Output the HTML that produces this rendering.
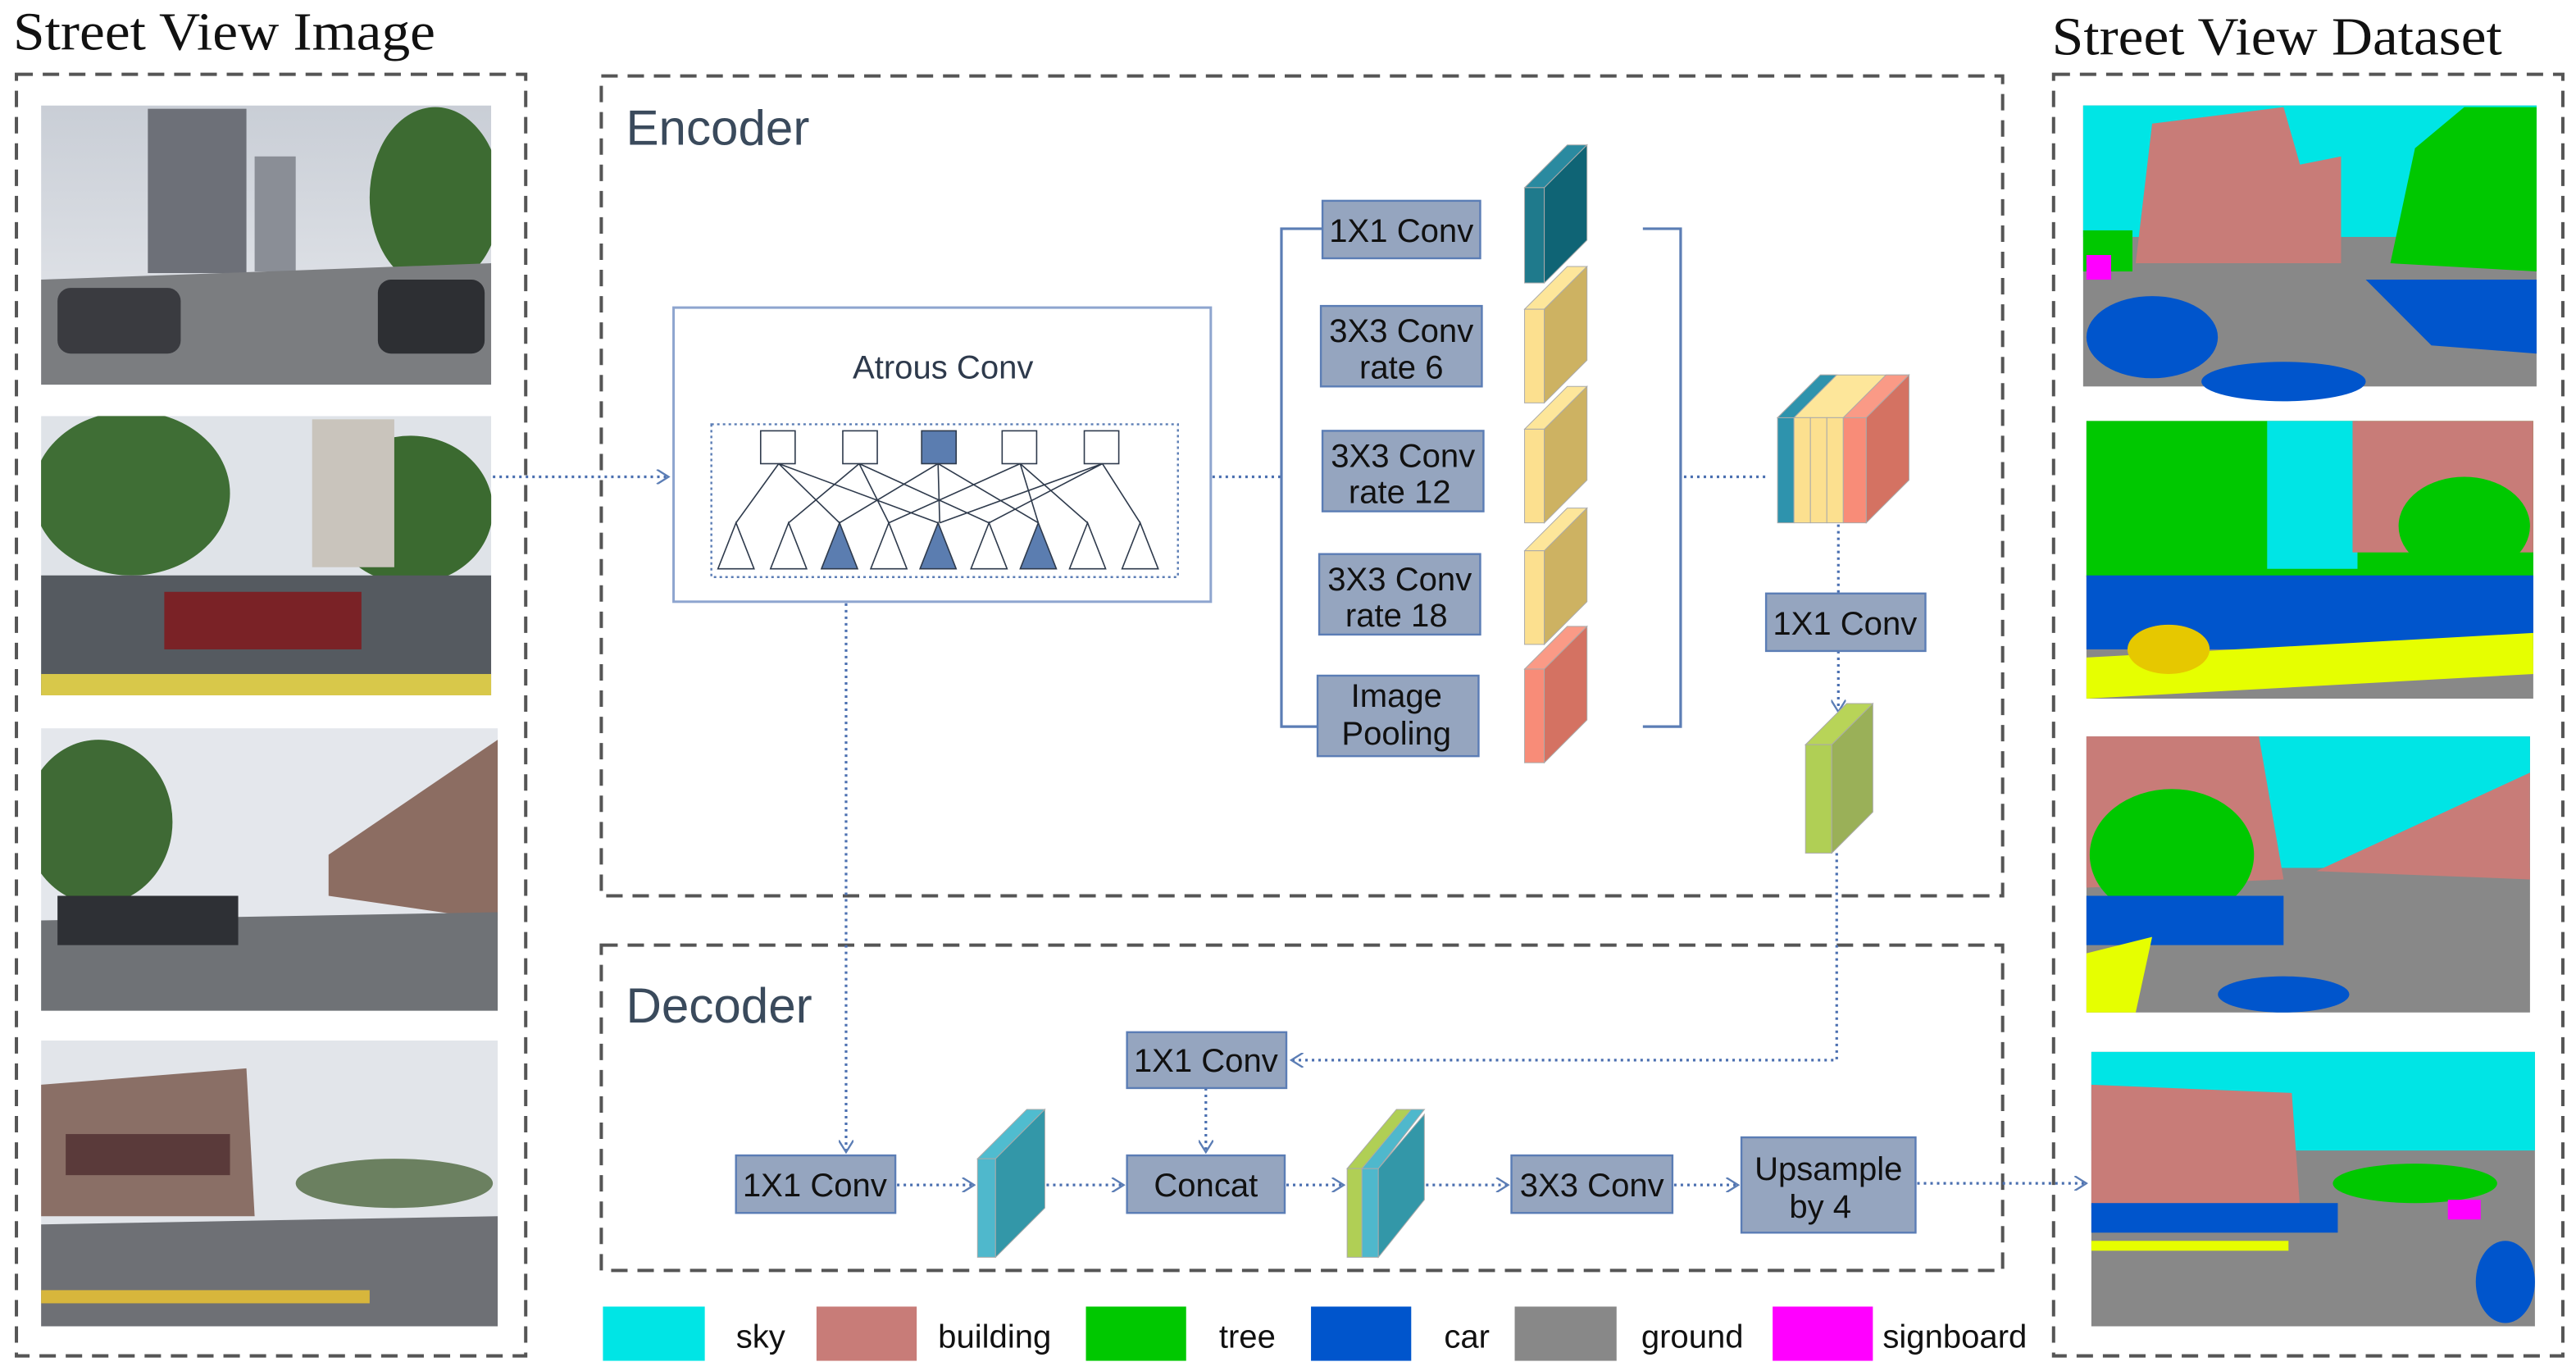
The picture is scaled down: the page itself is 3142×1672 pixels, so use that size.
<!DOCTYPE html>
<html><head><meta charset="utf-8"><style>html,body{margin:0;padding:0;background:#fff}svg{display:block}</style></head>
<body>
<svg xmlns="http://www.w3.org/2000/svg" width="3142" height="1672" viewBox="0 0 1568 834" font-family="'Liberation Sans',sans-serif">
<defs>
<marker id="ar" viewBox="0 0 10 10" refX="9" refY="5" markerWidth="9" markerHeight="9" orient="auto" markerUnits="userSpaceOnUse"><path d="M1,0 L9,5 L1,10" fill="none" stroke="#5b7db5" stroke-width="1.3"/></marker>
<linearGradient id="sky1" x1="0" y1="0" x2="0" y2="1"><stop offset="0" stop-color="#c9ced6"/><stop offset="1" stop-color="#e8eaee"/></linearGradient>
<clipPath id="c1"><rect x="25" y="64" width="274" height="170"/></clipPath>
<clipPath id="c2"><rect x="25" y="253" width="274" height="170"/></clipPath>
<clipPath id="c3"><rect x="25" y="443" width="278" height="172"/></clipPath>
<clipPath id="c4"><rect x="25" y="633" width="278" height="174"/></clipPath>
</defs>
<rect width="1568" height="834" fill="#fff"/>
<g fill="none" stroke="#555" stroke-width="2" stroke-dasharray="10,6">
<rect x="10" y="45" width="310" height="780"/>
<rect x="366" y="46" width="853" height="499"/>
<rect x="366" y="575" width="853" height="198"/>
<rect x="1250" y="45" width="310" height="780"/>
</g>
<text x="8" y="30" font-family="'Liberation Serif',serif" font-size="33" fill="#111" textLength="257" lengthAdjust="spacingAndGlyphs">Street View Image</text>
<text x="1249" y="33" font-family="'Liberation Serif',serif" font-size="33" fill="#111" textLength="274" lengthAdjust="spacingAndGlyphs">Street View Dataset</text>
<text x="381" y="88" font-size="30" fill="#3a4a5c">Encoder</text>
<text x="381" y="622" font-size="30" fill="#3a4a5c">Decoder</text>

<!-- photos -->
<g clip-path="url(#c1)">
<rect x="25" y="64" width="274" height="170" fill="url(#sky1)"/>
<rect x="90" y="66" width="60" height="100" fill="#6d7078"/><rect x="155" y="95" width="25" height="70" fill="#8a8e96"/>
<ellipse cx="265" cy="120" rx="40" ry="55" fill="#3d6b32"/>
<polygon points="25,170 299,160 299,234 25,234" fill="#7b7d80"/>
<rect x="35" y="175" width="75" height="40" rx="8" fill="#3a3b40"/><rect x="230" y="170" width="65" height="45" rx="8" fill="#2d2f33"/>
</g>
<g clip-path="url(#c2)">
<rect x="25" y="253" width="274" height="170" fill="#dfe3e8"/>
<ellipse cx="80" cy="300" rx="60" ry="50" fill="#3f6e35"/><ellipse cx="250" cy="310" rx="50" ry="45" fill="#3b6a30"/>
<rect x="190" y="255" width="50" height="90" fill="#c9c4bc"/>
<rect x="25" y="350" width="274" height="73" fill="#555a60"/><rect x="100" y="360" width="120" height="35" fill="#7a2226"/><rect x="25" y="410" width="274" height="13" fill="#d8c84a"/>
</g>
<g clip-path="url(#c3)">
<rect x="25" y="443" width="278" height="172" fill="#e4e7ec"/>
<ellipse cx="60" cy="500" rx="45" ry="50" fill="#3f6a35"/><polygon points="200,520 303,450 303,560 200,545" fill="#8c6d62"/>
<polygon points="25,560 303,555 303,615 25,615" fill="#6f7276"/><rect x="35" y="545" width="110" height="30" fill="#2e3035"/>
</g>
<g clip-path="url(#c4)">
<rect x="25" y="633" width="278" height="174" fill="#e2e5ea"/>
<polygon points="25,660 150,650 155,740 25,740" fill="#8a6f66"/><rect x="40" y="690" width="100" height="25" fill="#5a3a3a"/>
<ellipse cx="240" cy="720" rx="60" ry="15" fill="#6b8060"/>
<polygon points="25,745 303,740 303,807 25,807" fill="#6e7075"/><rect x="25" y="785" width="200" height="8" fill="#d7b63c"/>
</g>

<!-- seg maps -->
<g>
<rect x="1268" y="64" width="276" height="171" fill="#888"/>
<rect x="1268" y="64" width="276" height="80" fill="#00e5e5"/>
<polygon points="1300,160 1310,75 1390,65 1400,100 1425,95 1425,160" fill="#c87c78"/>
<polygon points="1455,160 1470,90 1500,65 1544,65 1544,165" fill="#00c800"/>
<rect x="1268" y="140" width="30" height="25" fill="#00c800"/><rect x="1270" y="155" width="15" height="15" fill="#ff00ff"/>
<ellipse cx="1310" cy="205" rx="40" ry="25" fill="#0055cc"/><polygon points="1440,170 1544,170 1544,215 1480,210" fill="#0055cc"/><ellipse cx="1390" cy="232" rx="50" ry="12" fill="#0055cc"/>
<rect x="1270" y="256" width="272" height="169" fill="#888"/>
<rect x="1270" y="256" width="272" height="95" fill="#00c800"/>
<rect x="1380" y="256" width="55" height="90" fill="#00e5e5"/><rect x="1432" y="256" width="110" height="80" fill="#c87c78"/>
<ellipse cx="1500" cy="320" rx="40" ry="30" fill="#00c800"/>
<rect x="1270" y="350" width="272" height="45" fill="#0055cc"/><polygon points="1270,400 1542,385 1542,410 1270,425" fill="#e6ff00"/>
<ellipse cx="1320" cy="395" rx="25" ry="15" fill="#e6c800"/>
<rect x="1270" y="448" width="270" height="168" fill="#888"/>
<rect x="1375" y="448" width="165" height="80" fill="#00e5e5"/><polygon points="1270,448 1375,448 1390,535 1270,540" fill="#c87c78"/>
<polygon points="1410,530 1540,470 1540,535" fill="#c87c78"/>
<ellipse cx="1322" cy="520" rx="50" ry="40" fill="#00c800"/>
<rect x="1270" y="545" width="120" height="30" fill="#0055cc"/><polygon points="1270,580 1310,570 1300,616 1270,616" fill="#e6ff00"/><ellipse cx="1390" cy="605" rx="40" ry="11" fill="#0055cc"/>
<rect x="1273" y="640" width="270" height="167" fill="#888"/>
<rect x="1273" y="640" width="270" height="60" fill="#00e5e5"/><polygon points="1273,660 1395,665 1400,735 1273,735" fill="#c87c78"/>
<ellipse cx="1470" cy="720" rx="50" ry="12" fill="#00c800"/>
<rect x="1273" y="732" width="150" height="18" fill="#0055cc"/><rect x="1273" y="755" width="120" height="6" fill="#e6ff00"/>
<ellipse cx="1525" cy="780" rx="18" ry="25" fill="#0055cc"/><rect x="1490" y="730" width="20" height="12" fill="#ff00ff"/>
</g>

<!-- atrous -->
<rect x="410" y="187" width="327" height="179" fill="#fff" stroke="#8ea5cf" stroke-width="1.5"/>
<text x="574" y="230" font-size="20" fill="#2e3a4c" text-anchor="middle">Atrous  Conv</text>
<rect x="433" y="258" width="284" height="93" fill="none" stroke="#5b7db5" stroke-width="1.2" stroke-dasharray="1.5,2"/>
<g stroke="#2e3a4c" stroke-width="0.8" fill="#fff">
<rect x="463" y="262" width="21" height="20"/><rect x="513" y="262" width="21" height="20"/><rect x="561" y="262" width="21" height="20" fill="#5b7db0"/><rect x="610" y="262" width="21" height="20"/><rect x="660" y="262" width="21" height="20"/>
<path d="M474,282 L448,318 M474,282 L511,318 M474,282 L571,318 M523,282 L480,318 M523,282 L541,318 M523,282 L602,318 M571,282 L511,318 M571,282 L572,318 M571,282 L632,318 M621,282 L541,318 M621,282 L632,318 M621,282 L662,318 M671,282 L572,318 M671,282 L602,318 M671,282 L694,318" fill="none"/>
<polygon points="448,318 437,346 459,346"/><polygon points="480,318 469,346 491,346"/><polygon points="511,318 500,346 522,346" fill="#5b7db0"/><polygon points="541,318 530,346 552,346"/><polygon points="571,318 560,346 582,346" fill="#5b7db0"/><polygon points="602,318 591,346 613,346"/><polygon points="632,318 621,346 643,346" fill="#5b7db0"/><polygon points="662,318 651,346 673,346"/><polygon points="694,318 683,346 705,346"/>
</g>

<!-- connectors -->
<g fill="none" stroke="#4a6fb0" stroke-width="1.6" stroke-dasharray="1.5,2.5">
<path d="M300,290 H407" marker-end="url(#ar)"/>
<path d="M738,290 H780"/>
<path d="M1025,290 H1075"/>
<path d="M1119,319 V361"/>
<path d="M1119,396 V433" marker-end="url(#ar)"/>
<path d="M1118,519 V645 H786" marker-end="url(#ar)"/>
<path d="M515,367 V701" marker-end="url(#ar)"/>
<path d="M734,662 V701" marker-end="url(#ar)"/>
<path d="M546,721 H593" marker-end="url(#ar)"/>
<path d="M637,721 H684" marker-end="url(#ar)"/>
<path d="M783,721 H818" marker-end="url(#ar)"/>
<path d="M868,721 H918" marker-end="url(#ar)"/>
<path d="M1019,721 H1058" marker-end="url(#ar)"/>
<path d="M1167,720 H1270" marker-end="url(#ar)"/>
</g>
<g fill="none" stroke="#5b7db5" stroke-width="1.6">
<path d="M805,139 H780 V442 H802"/>
<path d="M1000,139 H1023 V442 H1000"/>
</g>

<!-- boxes -->
<g fill="#95a5bf" stroke="#5b7db5" stroke-width="1.2">
<rect x="805" y="122" width="96" height="35"/>
<rect x="804" y="186" width="98" height="49"/>
<rect x="805" y="262" width="98" height="49"/>
<rect x="803" y="337" width="98" height="49"/>
<rect x="802" y="411" width="98" height="49"/>
<rect x="1075" y="361" width="97" height="35"/>
<rect x="686" y="628" width="97" height="34"/>
<rect x="448" y="703" width="97" height="35"/>
<rect x="686" y="703" width="96" height="35"/>
<rect x="920" y="703" width="98" height="35"/>
<rect x="1060" y="692" width="106" height="58"/>
</g>
<g font-size="20" fill="#111" text-anchor="middle">
<text x="853" y="147">1X1 Conv</text>
<text x="853" y="208">3X3 Conv</text><text x="853" y="230">rate  6</text>
<text x="854" y="284">3X3 Conv</text><text x="852" y="306">rate  12</text>
<text x="852" y="359">3X3 Conv</text><text x="850" y="381">rate  18</text>
<text x="850" y="430">Image</text><text x="850" y="453">Pooling</text>
<text x="1123" y="386">1X1 Conv</text>
<text x="734" y="652">1X1 Conv</text>
<text x="496" y="728">1X1 Conv</text>
<text x="734" y="728">Concat</text>
<text x="969" y="728">3X3 Conv</text>
<text x="1113" y="718">Upsample</text><text x="1108" y="741">by 4</text>
</g>

<!-- slabs encoder -->
<g stroke="#aaa" stroke-width="0.5">
<polygon points="928,114 954,88 966,88 940,114" fill="#2a8aa0"/><rect x="928" y="114" width="12" height="58" fill="#1f7a8c"/><polygon points="940,114 966,88 966,146 940,172" fill="#0f6475"/>
<polygon points="928,188 954,162 966,162 940,188" fill="#fde69a"/><rect x="928" y="188" width="12" height="57" fill="#fce08f"/><polygon points="940,188 966,162 966,219 940,245" fill="#cdb262"/>
<polygon points="928,261 954,235 966,235 940,261" fill="#fde69a"/><rect x="928" y="261" width="12" height="57" fill="#fce08f"/><polygon points="940,261 966,235 966,292 940,318" fill="#cdb262"/>
<polygon points="928,335 954,309 966,309 940,335" fill="#fde69a"/><rect x="928" y="335" width="12" height="57" fill="#fce08f"/><polygon points="940,335 966,309 966,366 940,392" fill="#cdb262"/>
<polygon points="928,407 954,381 966,381 940,407" fill="#fa9a86"/><rect x="928" y="407" width="12" height="57" fill="#f88c78"/><polygon points="940,407 966,381 966,438 940,464" fill="#d47262"/>
<polygon points="1082,254 1108,228 1162,228 1136,254" fill="#fde69a"/>
<rect x="1082" y="254" width="10" height="64" fill="#2e93ad"/><rect x="1092" y="254" width="10" height="64" fill="#fce08f"/><rect x="1102" y="254" width="10" height="64" fill="#fce08f"/><rect x="1112" y="254" width="10" height="64" fill="#fce08f"/><rect x="1122" y="254" width="14" height="64" fill="#f88c78"/>
<polygon points="1082,254 1108,228 1118,228 1092,254" fill="#2e93ad"/><polygon points="1122,254 1148,228 1162,228 1136,254" fill="#fa9a86"/>
<polygon points="1136,254 1162,228 1162,292 1136,318" fill="#d47262"/>
<polygon points="1099,453 1124,428 1140,428 1115,453" fill="#b8d458"/><rect x="1099" y="453" width="16" height="66" fill="#b0cf55"/><polygon points="1115,453 1140,428 1140,494 1115,519" fill="#9ab058"/>
<polygon points="595,705 625,675 636,675 606,705" fill="#50bccf"/><rect x="595" y="705" width="11" height="60" fill="#4fb8cc"/><polygon points="606,705 636,675 636,735 606,765" fill="#3397a8"/>
<polygon points="820,711 850,675 867,675 837,711" fill="#b0cf55"/><rect x="820" y="711" width="9" height="54" fill="#b0cf55"/><rect x="829" y="711" width="10" height="54" fill="#4fb8cc"/><polygon points="829,711 859,675 867,675 839,711" fill="#4fb8cc"/><polygon points="839,711 867,678 867,730 839,765" fill="#3397a8"/>
</g>

<!-- legend -->
<g>
<rect x="367" y="795" width="62" height="33" fill="#00e5e5"/>
<rect x="497" y="795" width="61" height="33" fill="#c87c78"/>
<rect x="661" y="795" width="61" height="33" fill="#00c800"/>
<rect x="798" y="795" width="61" height="33" fill="#0055cc"/>
<rect x="922" y="795" width="62" height="33" fill="#888888"/>
<rect x="1079" y="795" width="61" height="33" fill="#ff00ff"/>
</g>
<g font-size="20" fill="#111">
<text x="448" y="820">sky</text><text x="571" y="820">building</text><text x="742" y="820">tree</text><text x="879" y="820">car</text><text x="999" y="820">ground</text><text x="1146" y="820">signboard</text>
</g>
</svg>
</body></html>
